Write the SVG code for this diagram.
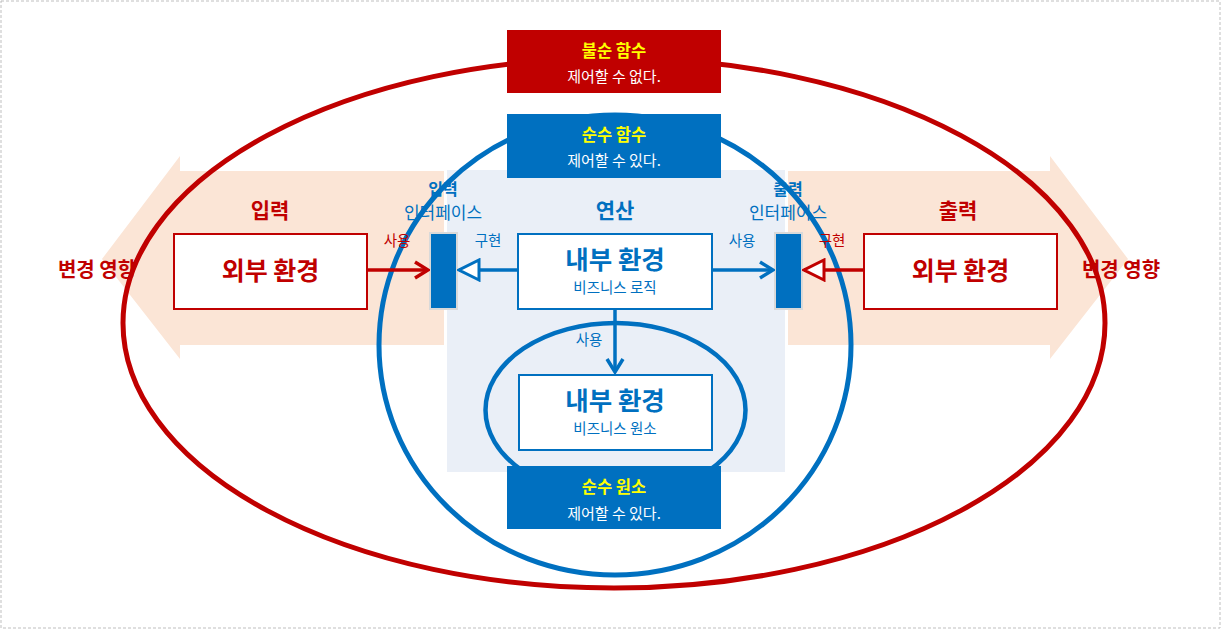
<svg xmlns="http://www.w3.org/2000/svg" width="1221" height="629" viewBox="0 0 1221 629">
<defs>
<style>
text{font-family:"Noto Sans CJK KR","Noto Sans",sans-serif;text-anchor:middle;}
.red{fill:#C00000}
.blue{fill:#0070C0}
.b{font-weight:bold}
.yl{fill:#FFFF00;font-weight:bold;font-size:16.5px}
.wt{fill:#FFFFFF;font-size:15px}
.lbl{font-size:14.5px}
</style>
<marker id="vRed" viewBox="0 0 18 20" refX="16" refY="10" markerWidth="18" markerHeight="20" markerUnits="userSpaceOnUse" orient="auto">
<path d="M3,2 L16,10 L3,18" fill="none" stroke="#C00000" stroke-width="3.5"/>
</marker>
<marker id="vBlue" viewBox="0 0 18 20" refX="16" refY="10" markerWidth="18" markerHeight="20" markerUnits="userSpaceOnUse" orient="auto">
<path d="M3,2 L16,10 L3,18" fill="none" stroke="#0070C0" stroke-width="3.5"/>
</marker>
<marker id="triRed" viewBox="0 0 24 24" refX="22" refY="12" markerWidth="24" markerHeight="24" markerUnits="userSpaceOnUse" orient="auto">
<path d="M2,2 L22,12 L2,22 Z" fill="#FFFFFF" stroke="#C00000" stroke-width="3"/>
</marker>
<marker id="triBlue" viewBox="0 0 24 24" refX="22" refY="12" markerWidth="24" markerHeight="24" markerUnits="userSpaceOnUse" orient="auto">
<path d="M2,2 L22,12 L2,22 Z" fill="#FFFFFF" stroke="#0070C0" stroke-width="3"/>
</marker>
</defs>
<rect x="0" y="0" width="1221" height="629" fill="#FFFFFF"/>
<rect x="1" y="1" width="1219" height="627" fill="none" stroke="#BFBFBF" stroke-dasharray="3,2"/>

<g id="bg-arrows">
<polygon points="444,171 180,171 180,156 102,259 180,359 180,345 444,345" fill="#FBE5D6"/>
<polygon points="788,171 1050,171 1050,156 1128,259 1050,359 1050,345 788,345" fill="#FBE5D6"/>
</g>
<g id="panel">
<rect x="447" y="170" width="338" height="302" fill="#EAEFF7"/>
</g>

<g id="labels">
<text x="270" y="218" class="red b" font-size="21">입력</text>
<text x="958" y="218" class="red b" font-size="21">출력</text>
<text x="97" y="277" class="red b" font-size="20">변경 영향</text>
<text x="1121" y="277" class="red b" font-size="20">변경 영향</text>
<text x="443" y="195" class="blue b" font-size="16">입력</text>
<text x="443" y="219" class="blue" font-size="17">인터페이스</text>
<text x="788" y="195" class="blue b" font-size="16">출력</text>
<text x="788" y="219" class="blue" font-size="17">인터페이스</text>
<text x="615" y="218" class="blue b" font-size="21">연산</text>
</g>

<g id="ellipses" fill="none">
<ellipse cx="614" cy="323" rx="491" ry="265" stroke="#C00000" stroke-width="5"/>
<ellipse cx="615" cy="345" rx="236" ry="230" stroke="#0070C0" stroke-width="5"/>
<ellipse cx="615.5" cy="410" rx="130" ry="87" stroke="#0070C0" stroke-width="4.5"/>
</g>

<g id="impure-func">
<rect x="507" y="30" width="214" height="63" fill="#C00000"/>
<text x="614" y="57" class="yl">불순 함수</text>
<text x="614" y="82" class="wt">제어할 수 없다.</text>
</g>
<g id="pure-func">
<rect x="507" y="114" width="214" height="64" fill="#0070C0"/>
<text x="614" y="141" class="yl">순수 함수</text>
<text x="614" y="166" class="wt">제어할 수 있다.</text>
</g>
<g id="pure-elem">
<rect x="507" y="466" width="214" height="63" fill="#0070C0"/>
<text x="614" y="493" class="yl">순수 원소</text>
<text x="614" y="519" class="wt">제어할 수 있다.</text>
</g>

<g id="ext-left">
<rect x="174" y="234" width="193" height="75" fill="#FFFFFF" stroke="#C00000" stroke-width="2"/>
<text x="270.5" y="280" class="red b" font-size="25">외부 환경</text>
</g>
<g id="ext-right">
<rect x="864" y="234" width="193" height="75" fill="#FFFFFF" stroke="#C00000" stroke-width="2"/>
<text x="960.5" y="280" class="red b" font-size="25">외부 환경</text>
</g>
<g id="in-iface">
<rect x="430" y="233" width="27" height="76" fill="#0070C0" stroke="#D9D9D9" stroke-width="2"/>
</g>
<g id="out-iface">
<rect x="775" y="233" width="27" height="76" fill="#0070C0" stroke="#D9D9D9" stroke-width="2"/>
</g>
<g id="logic">
<rect x="518" y="234" width="194" height="75" fill="#FFFFFF" stroke="#0070C0" stroke-width="2"/>
<text x="615" y="269" class="blue b" font-size="25.5">내부 환경</text>
<text x="615" y="293" class="blue" font-size="14.5">비즈니스 로직</text>
</g>
<g id="element">
<rect x="519" y="375" width="193" height="75" fill="#FFFFFF" stroke="#0070C0" stroke-width="2"/>
<text x="615" y="410" class="blue b" font-size="25.5">내부 환경</text>
<text x="615" y="434" class="blue" font-size="14.5">비즈니스 원소</text>
</g>

<g id="connectors" fill="none" stroke-width="3.5">
<line x1="367" y1="270" x2="428" y2="270" stroke="#C00000" marker-end="url(#vRed)"/>
<line x1="864" y1="270" x2="804" y2="270" stroke="#C00000" marker-end="url(#triRed)"/>
<line x1="518" y1="270" x2="459" y2="270" stroke="#0070C0" marker-end="url(#triBlue)"/>
<line x1="712" y1="270" x2="773" y2="270" stroke="#0070C0" marker-end="url(#vBlue)"/>
<line x1="615" y1="309" x2="615" y2="372" stroke="#0070C0" marker-end="url(#vBlue)"/>
</g>
<g id="connector-labels">
<text x="397" y="246" class="red lbl">사용</text>
<text x="488" y="246" class="blue lbl">구현</text>
<text x="742" y="246" class="blue lbl">사용</text>
<text x="832" y="246" class="red lbl">구현</text>
<text x="589" y="345" class="blue lbl">사용</text>
</g>
</svg>
